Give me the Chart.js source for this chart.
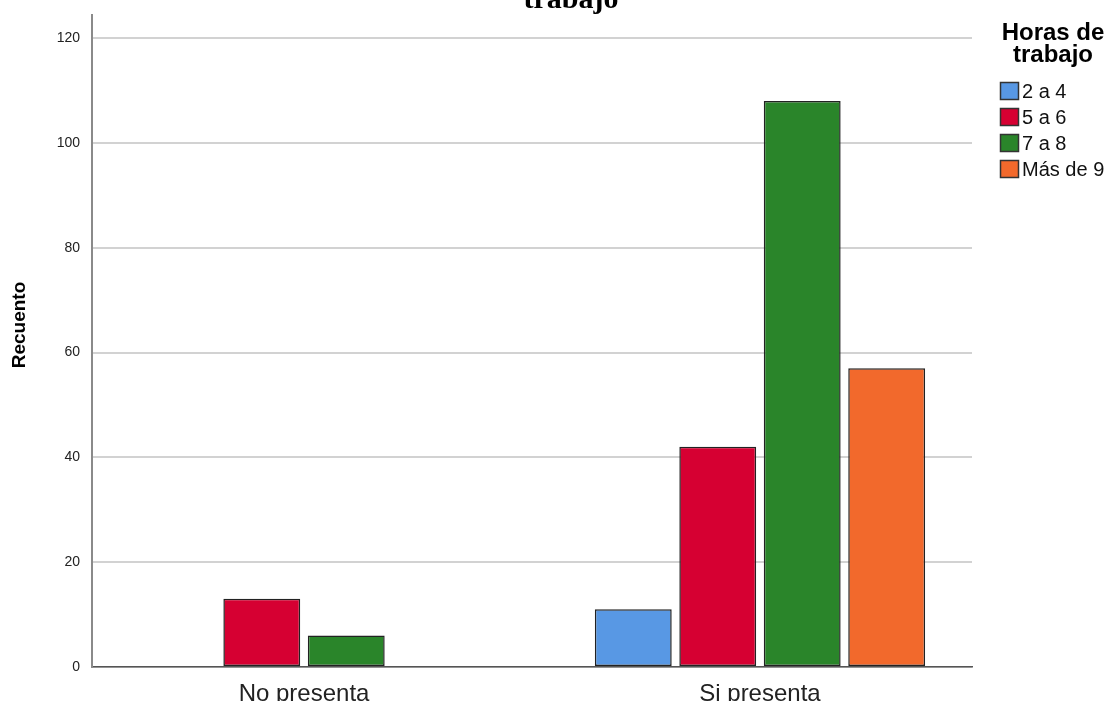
<!DOCTYPE html>
<html>
<head>
<meta charset="utf-8">
<script src="https://cdn.jsdelivr.net/npm/chart.js@4.4.1/dist/chart.umd.min.js"></script>
<style>
  body { margin: 0; background: #fff; }
  canvas { display: block; }
</style>
</head>
<body>
<canvas id="chart" width="1110" height="701"></canvas>
<script>
// categories and series (counts)
const categories = ['No presenta', 'Si presenta'];
const seriesNames = ['2 a 4', '5 a 6', '7 a 8', 'Más de 9'];
const values24 = [0, 11];
const values56 = [13, 42];
const values78 = [6, 108];
const valuesMas9 = [0, 57];
const yTicks = [0, 20, 40, 60, 80, 100, 120];

const colors = ['#5898e4', '#d60032', '#2a852a', '#f2692c'];
const allValues = [values24, values56, values78, valuesMas9];

const datasets = allValues.map((vals, i) => ({
    label: seriesNames[i],
    data: vals.map((v, j) => ({ x: j, y: v })),
    backgroundColor: colors[i],
    borderColor: '#222',
    borderWidth: 1.5,
    borderSkipped: false,
    categoryPercentage: 0.741,
    barPercentage: 0.91
}));

// cut-off chart title, y axis title and the legend box on the right, SPSS style
const extras = {
    id: 'extras',
    afterDraw(chart) {
        const ctx = chart.ctx;
        ctx.save();
        ctx.fillStyle = '#000';
        ctx.textAlign = 'center';
        ctx.textBaseline = 'alphabetic';
        ctx.font = 'bold 30px "Liberation Serif"';
        ctx.fillText('trabajo', 571, 8);

        ctx.font = 'bold 24px "Liberation Sans"';
        ctx.fillText('Horas de', 1053, 40);
        ctx.fillText('trabajo', 1053, 62);

        ctx.save();
        ctx.translate(20, 325);
        ctx.rotate(-Math.PI / 2);
        ctx.textBaseline = 'middle';
        ctx.font = 'bold 19px "Liberation Sans"';
        ctx.fillText('Recuento', 0, 0);
        ctx.restore();

        ctx.textAlign = 'left';
        ctx.textBaseline = 'middle';
        ctx.font = '20px "Liberation Sans"';
        chart.data.datasets.forEach((ds, i) => {
            const y = 91 + i * 26;
            ctx.fillStyle = ds.backgroundColor;
            ctx.fillRect(1000, y - 9, 19, 18);
            ctx.strokeStyle = '#333';
            ctx.lineWidth = 1.5;
            ctx.strokeRect(1000.5, y - 8.5, 18, 17);
            ctx.fillStyle = '#111';
            ctx.fillText(ds.label, 1022, y + 1);
        });
        ctx.restore();
    }
};

new Chart(document.getElementById('chart'), {
    type: 'bar',
    data: { datasets: datasets },
    options: {
        responsive: false,
        animation: false,
        layout: { padding: { top: 15, right: 138, left: 0, bottom: 0 } },
        plugins: { legend: { display: false }, tooltip: { enabled: false } },
        scales: {
            x: {
                type: 'linear',
                offset: false,
                min: -0.465,
                max: 1.465,
                afterBuildTicks: s => { s.ticks = categories.map((c, i) => ({ value: i })); },
                afterFit: s => { s.height = 34; s.paddingLeft = 0; s.paddingRight = 0; },
                ticks: {
                    callback: v => categories[v],
                    font: { family: 'Liberation Sans', size: 24 },
                    color: '#222',
                    padding: 13,
                    autoSkip: false,
                    maxRotation: 0
                },
                grid: { display: false, drawTicks: false },
                border: { display: true, color: '#555', width: 1.5 }
            },
            y: {
                min: 0,
                max: 124.4,
                afterBuildTicks: s => { s.ticks = yTicks.map(v => ({ value: v })); },
                afterFit: s => { s.width = 92; s.paddingTop = 0; s.paddingBottom = 0; },
                ticks: {
                    font: { family: 'Liberation Sans', size: 14 },
                    color: '#222',
                    padding: 12
                },
                grid: { color: '#d2d2d2', lineWidth: 2, drawTicks: false },
                border: { display: true, color: '#8a8a8a', width: 2 }
            }
        }
    },
    plugins: [extras]
});
</script>
</body>
</html>
